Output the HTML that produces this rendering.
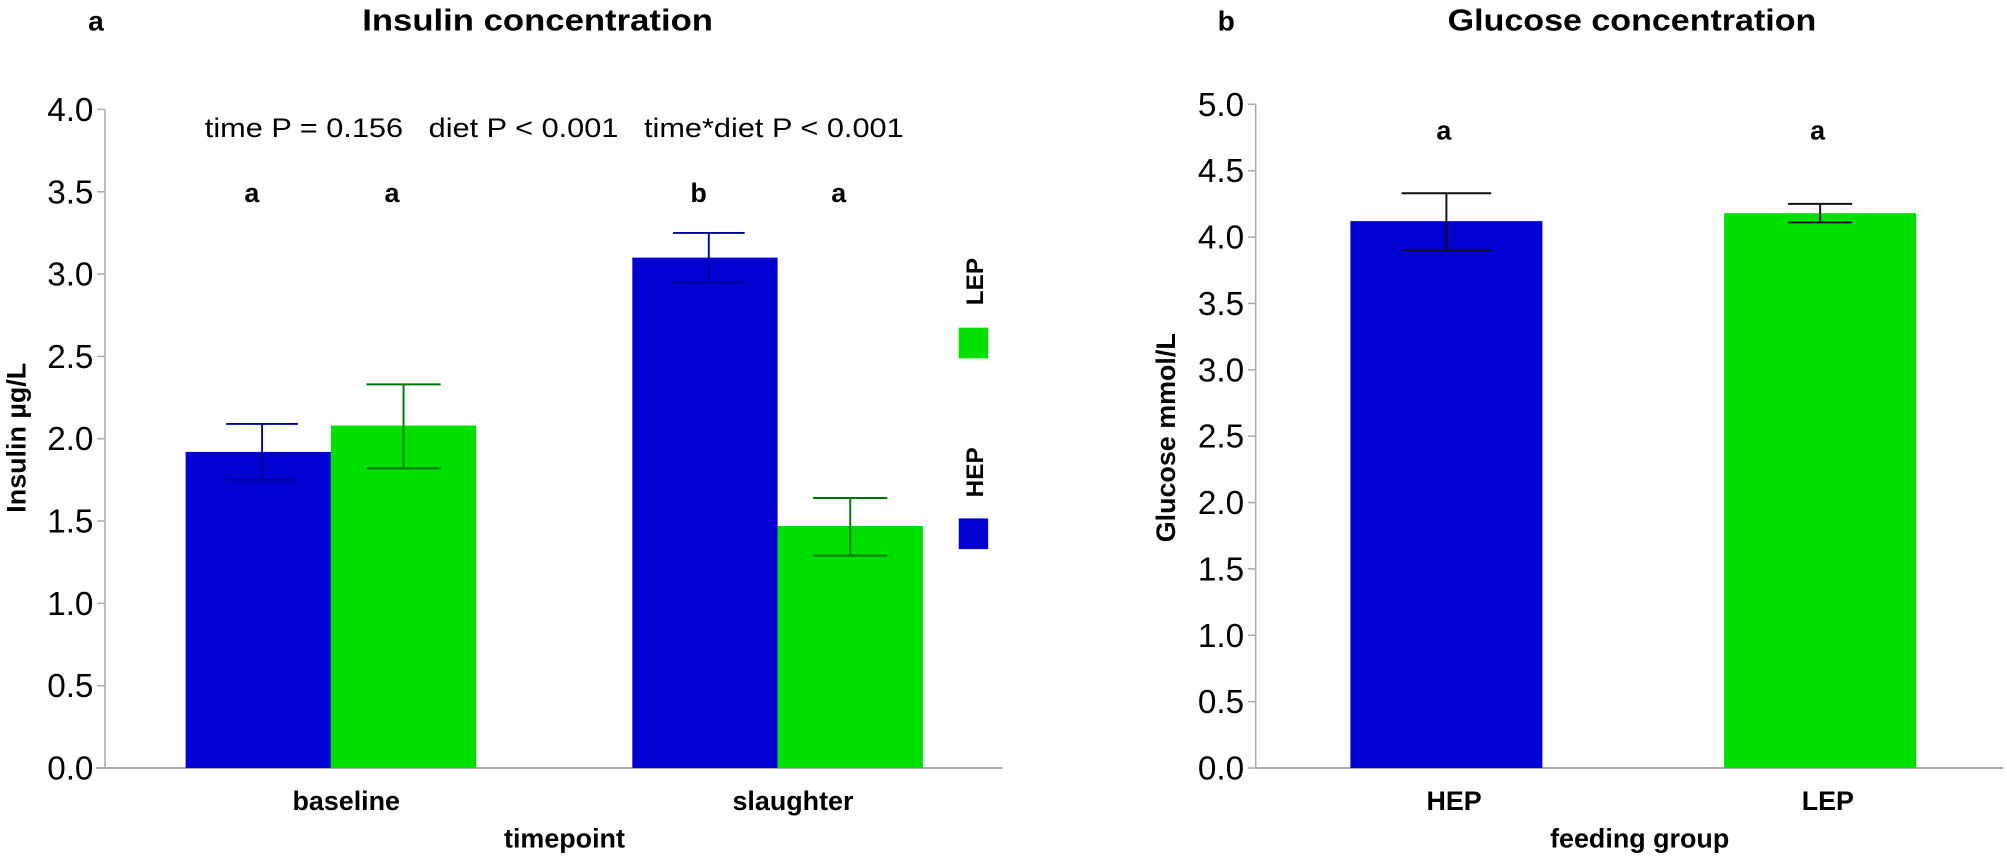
<!DOCTYPE html>
<html><head><meta charset="utf-8"><style>
body{margin:0;background:#fff;}
svg text{font-family:"Liberation Sans",sans-serif;fill:#000;}
.pre{white-space:pre;}
</style></head><body>
<svg width="2007" height="858" xmlns="http://www.w3.org/2000/svg"><g id="c" transform="scale(1.28)"></g></svg>
<script>
// Panel a data
const insulinCategories = ['baseline', 'slaughter'];
const insulinHEP = [1.92, 3.10];
const insulinLEP = [2.08, 1.47];
const insulinHEPerrLow = [1.75, 2.95];
const insulinHEPerrHigh = [2.09, 3.25];
const insulinLEPerrLow = [1.82, 1.29];
const insulinLEPerrHigh = [2.33, 1.64];
const insulinLettersHEP = ['a', 'b'];
const insulinLettersLEP = ['a', 'a'];
const insulinTicks = ['0.0','0.5','1.0','1.5','2.0','2.5','3.0','3.5','4.0'];
// Panel b data
const glucoseCategories = ['HEP', 'LEP'];
const glucoseValues = [4.12, 4.18];
const glucoseErrLow = [3.90, 4.11];
const glucoseErrHigh = [4.33, 4.25];
const glucoseLetters = ['a', 'a'];
const glucoseTicks = ['0.0','0.5','1.0','1.5','2.0','2.5','3.0','3.5','4.0','4.5','5.0'];

const BLUE = '#0000d0', GREEN = '#00e000';
const svg = document.getElementById('c');
const NS = 'http://www.w3.org/2000/svg';
function mk(tag, attrs, parent, text) {
  const e = document.createElementNS(NS, tag);
  for (const k in attrs) e.setAttribute(k, attrs[k]);
  if (text !== undefined) e.textContent = text;
  (parent || svg).appendChild(e);
  return e;
}
const y0 = 600;
const yA = v => y0 - (y0 - 85.5) * v / 4;
const yB = v => y0 - (y0 - 81.5) * v / 5;

function axis(x, ticks, yf, name) {
  const g = mk('g', {});
  
  
  mk('line', {x1: x, y1: yf(parseFloat(ticks[ticks.length-1])), x2: x, y2: y0, stroke: '#aaa', 'stroke-width': 1.2}, g);
  ticks.forEach(t => {
    const y = yf(parseFloat(t));
    mk('line', {x1: x - 6, y1: y, x2: x, y2: y, stroke: '#aaa', 'stroke-width': 1.2}, g);
    const tx = mk('text', {x: x - 9, y: y + 9, 'font-size': 26, 'text-anchor': 'end'}, g, t);
    
    
  });
}
function bar(x1, x2, v, yf, col, name) {
  const r = mk('rect', {x: x1, y: yf(v), width: x2 - x1, height: y0 - yf(v), fill: col});
  
  
}
function err(xc, lo, hi, yf, col, w, name) {
  const g = mk('g', {stroke: col, 'stroke-width': 1.5});
  
  
  mk('line', {x1: xc, y1: yf(lo), x2: xc, y2: yf(hi)}, g);
  mk('line', {x1: xc - w/2, y1: yf(lo), x2: xc + w/2, y2: yf(lo)}, g);
  mk('line', {x1: xc - w/2, y1: yf(hi), x2: xc + w/2, y2: yf(hi)}, g);
}
function txt(x, y, s, size, bold, name, anchor, rot, len) {
  const a = {x: x, y: y, 'font-size': size, 'text-anchor': anchor || 'middle'};
  if (bold) a['font-weight'] = 'bold';
  if (rot) a.transform = `rotate(-90 ${x} ${y})`;
  if (len) { a.textLength = len; a.lengthAdjust = 'spacingAndGlyphs'; }
  const t = mk('text', a, svg, s);
  
  
  return t;
}

// ===== Panel a =====
txt(75, 24, 'a', 22, true, 'panel-a-label');
txt(420, 24, 'Insulin concentration', 24, true, 'panel-a-title', 'middle', false, 274);
const pv = txt(433, 107, 'time P = 0.156   diet P < 0.001   time*diet P < 0.001', 21, false, 'p-values-annotation', 'middle', false, 546);
pv.setAttribute('class', 'pre');
mk('line', {x1: 75, y1: y0, x2: 783, y2: y0, stroke: '#aaa', 'stroke-width': 1.5});
axis(82, insulinTicks, yA, 'y-axis-insulin');
const groupLeft = [145, 494], groupW = 113.5;
insulinCategories.forEach((c, i) => {
  const l = groupLeft[i], m = l + groupW, r = l + 2 * groupW;
  bar(l, m, insulinHEP[i], yA, BLUE, 'bar-hep-' + c);
  bar(m, r, insulinLEP[i], yA, GREEN, 'bar-lep-' + c);
  err((l + m)/2 + 3, insulinHEPerrLow[i], insulinHEPerrHigh[i], yA, '#000099', 56, 'error-bar-hep-' + c);
  err((m + r)/2 + 0, insulinLEPerrLow[i], insulinLEPerrHigh[i], yA, '#007700', 58, 'error-bar-lep-' + c);
  txt((l + m)/2 - 5, 158, insulinLettersHEP[i], 21, true, 'significance-letter-hep-' + c);
  txt((m + r)/2 - 9, 158, insulinLettersLEP[i], 21, true, 'significance-letter-lep-' + c);
  txt(m + 12, 633, c, 21, true, 'x-tick-label-' + c);
});
txt(441, 662, 'timepoint', 21, true, 'x-axis-title-a');
txt(20, 342, 'Insulin µg/L', 21, true, 'y-axis-title-a', 'middle', true);
// legend
const lg = mk('rect', {x: 749, y: 256, width: 23, height: 24, fill: GREEN});
 
txt(768, 220, 'LEP', 19, true, 'legend-label-lep', 'middle', true);
const lb = mk('rect', {x: 749, y: 405, width: 23, height: 24, fill: BLUE});
 
txt(768, 369, 'HEP', 19, true, 'legend-label-hep', 'middle', true);

// ===== Panel b =====
txt(958, 24, 'b', 22, true, 'panel-b-label');
txt(1275, 24, 'Glucose concentration', 24, true, 'panel-b-title', 'middle', false, 288);
mk('line', {x1: 981, y1: y0, x2: 1565, y2: y0, stroke: '#aaa', 'stroke-width': 1.5});
axis(981, glucoseTicks, yB, 'y-axis-glucose');
const gLeft = [1055, 1347], gW = [150, 150], gCol = [BLUE, GREEN], gCap = [70, 50];
glucoseCategories.forEach((c, i) => {
  const l = gLeft[i], r = l + gW[i], xc = (l + r)/2;
  bar(l, r, glucoseValues[i], yB, gCol[i], 'bar-glucose-' + c);
  err(xc, glucoseErrLow[i], glucoseErrHigh[i], yB, '#111', gCap[i], 'error-bar-glucose-' + c);
  txt(xc - 2, 109, glucoseLetters[i], 21, true, 'significance-letter-' + c);
  txt(xc + 6, 633, c, 21, true, 'x-tick-label-' + c);
});
txt(1281, 662, 'feeding group', 21, true, 'x-axis-title-b');
txt(918, 342, 'Glucose mmol/L', 21, true, 'y-axis-title-b', 'middle', true);
</script>
</body></html>
